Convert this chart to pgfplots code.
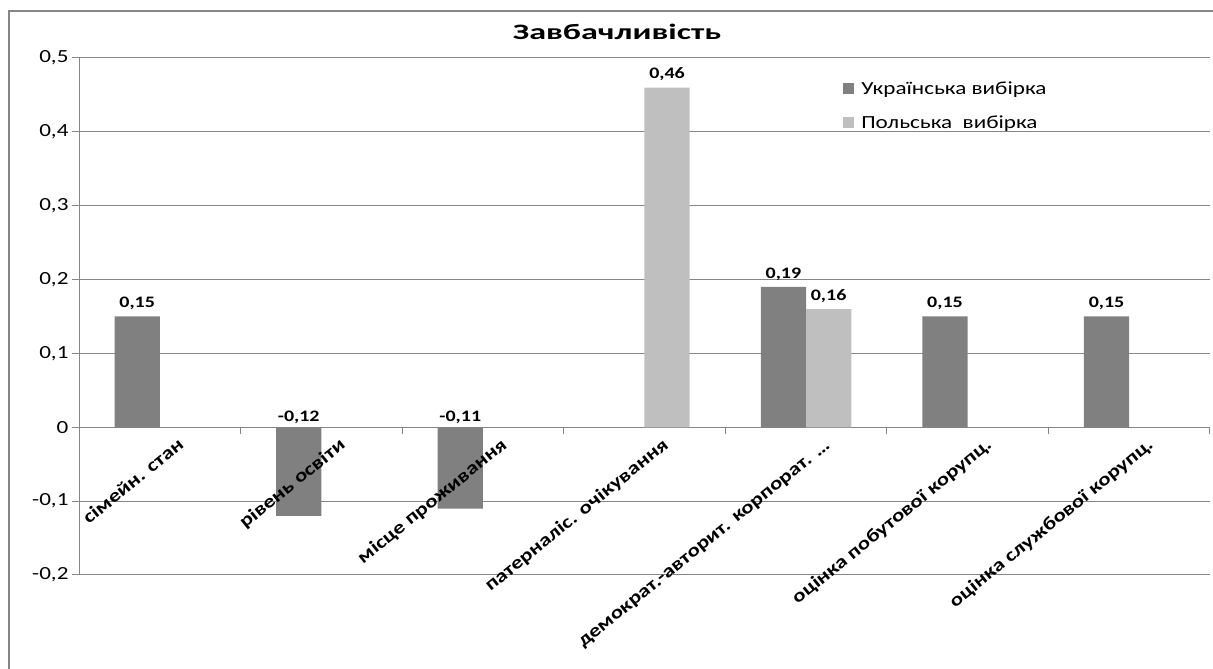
\documentclass[border=0pt]{standalone}
\usepackage{fontspec}
\setmainfont{Carlito}[FakeStretch=1.25]
\newfontfamily\titlefont{Carlito}[FakeStretch=1.55]
\usepackage{pgfplots}
\pgfplotsset{compat=1.18}
\definecolor{uadark}{RGB}{128,128,128}
\definecolor{pllight}{RGB}{191,191,191}
\definecolor{gridc}{RGB}{134,134,134}
\begin{document}
\begin{tikzpicture}
\useasboundingbox (0,0) rectangle (1213pt,669pt);
\draw[gridc, line width=1.3pt] (9pt,-5pt) -- (9pt,658pt) -- (1220pt,658pt);
\node[font=\titlefont\fontsize{22}{26}\selectfont\bfseries, anchor=base] at (617pt,629pt) {Завбачливість};
\begin{axis}[
  at={(79pt,94pt)}, anchor=south west,
  scale only axis, width=1131pt, height=517pt,
  xmin=-0.5, xmax=6.5, ymin=-0.2, ymax=0.5,
  axis y line*=left, axis x line*=middle,
  axis line style={gridc, line width=1pt},
  ymajorgrids, grid style={gridc, line width=1pt},
  tick style={gridc, line width=1pt},
  tick align=outside, major tick length=7pt,
  ytick={-0.2,-0.1,0,0.1,0.2,0.3,0.4,0.5},
  yticklabel style={font=\fontsize{18.5}{22}\selectfont,
    /pgf/number format/.cd, use comma, fixed, precision=1, assume math mode=true},
  xtick={-0.5,0.5,1.5,2.5,3.5,4.5,5.5,6.5},
  xticklabels={,,,,,,,},
  legend style={at={(0.673,0.963)}, anchor=north west, draw=none, fill=none,
    font=\fontsize{18.5}{22}\selectfont, row sep=16pt, legend cell align=left},
  legend image code/.code={\fill[#1] (0pt,-5.5pt) rectangle (11pt,5.5pt); \path (16pt,0pt);},
  clip=false,
]
\addplot[ybar, bar width=0.28, bar shift=-0.14, fill=uadark, draw=none,
  nodes near coords,
  every node near coord/.append style={anchor=south, font=\fontsize{16}{19}\selectfont\bfseries, yshift=3pt, xshift=-22.6pt,
    /pgf/number format/.cd, use comma, fixed, fixed zerofill, precision=2, assume math mode=true}]
  coordinates {(0,0.15) (4,0.19) (5,0.15) (6,0.15)};
\addlegendentry{Українська вибірка}
\addplot[ybar, bar width=0.28, bar shift=0.14, fill=pllight, draw=none,
  nodes near coords,
  every node near coord/.append style={anchor=south, font=\fontsize{16}{19}\selectfont\bfseries, yshift=3pt, xshift=22.6pt,
    /pgf/number format/.cd, use comma, fixed, fixed zerofill, precision=2, assume math mode=true}]
  coordinates {(3,0.46) (4,0.16)};
\addlegendentry{Польська~ вибірка}
\addplot[ybar, bar width=0.28, bar shift=-0.14, fill=uadark, draw=none, forget plot]
  coordinates {(1,-0.12) (2,-0.11)};
\addplot[ybar, bar width=0.28, bar shift=-0.14, draw=none, fill=none, forget plot,
  nodes near coords, point meta=explicit symbolic,
  every node near coord/.append style={anchor=south, font=\fontsize{16}{19}\selectfont\bfseries, yshift=0pt, xshift=-22.6pt}]
  coordinates {(1,0) [-0,12] (2,0) [-0,11]};
% category labels, drawn last so they lie over the bars
\addplot[only marks, mark=none, forget plot,
  nodes near coords, point meta=explicit symbolic,
  every node near coord/.append style={rotate=39, anchor=base east, font=\fontsize{18.3}{22}\selectfont\bfseries, xshift=10.6pt, yshift=-31pt}]
  coordinates {(0,0) [сімейн. стан] (1,0) [рівень освіти] (2,0) [місце проживання] (3,0) [патерналіс. очікування] (4,0) [демократ.-авторит. корпорат. …] (5,0) [оцінка побутової корупц.] (6,0) [оцінка службової корупц.]};
\end{axis}
\end{tikzpicture}
\end{document}
